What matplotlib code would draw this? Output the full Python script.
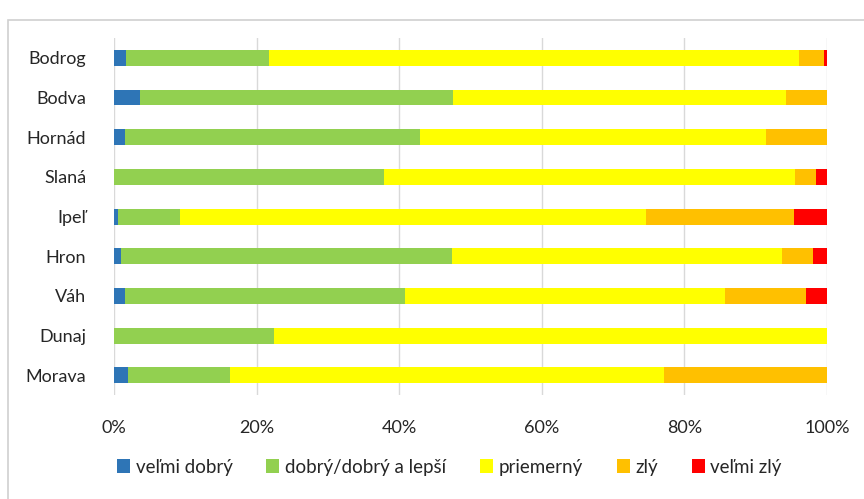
import matplotlib.pyplot as plt
from matplotlib.patches import Rectangle
from matplotlib.ticker import PercentFormatter

plt.rcParams['font.family'] = ['Lato', 'DejaVu Sans']

# rieky (zhora nadol ako v grafe)
rivers = ["Bodrog", "Bodva", "Hornád", "Slaná", "Ipeľ", "Hron", "Váh", "Dunaj", "Morava"]

# podiely v % podľa stavu
velmi_dobry = [1.7, 3.6, 1.6, 0.0, 0.5, 1.0, 1.5, 0.0, 1.9]
dobry = [20.0, 44.0, 41.3, 37.9, 8.7, 46.4, 39.3, 22.4, 14.3]
priemerny = [74.4, 46.7, 48.5, 57.7, 65.4, 46.3, 44.9, 77.6, 60.9]
zly = [3.5, 5.7, 8.6, 2.9, 20.8, 4.4, 11.4, 0.0, 22.9]
velmi_zly = [0.4, 0.0, 0.0, 1.5, 4.6, 1.9, 2.9, 0.0, 0.0]

series = [
    ("veľmi dobrý", velmi_dobry, "#2E75B6"),
    ("dobrý/dobrý a lepší", dobry, "#92D050"),
    ("priemerný", priemerny, "#FFFF00"),
    ("zlý", zly, "#FFC000"),
    ("veľmi zlý", velmi_zly, "#FF0000"),
]

fig = plt.figure(figsize=(8.64, 4.99), dpi=100)
ax = fig.add_axes([0.132, 0.208, 0.825, 0.716])

y = list(range(len(rivers)))
left = [0.0] * len(rivers)
for name, vals, color in series:
    ax.barh(y, vals, left=left, height=0.4, color=color, label=name, zorder=3)
    left = [a + b for a, b in zip(left, vals)]

ax.set_xlim(0, 100)
ax.set_ylim(len(rivers) - 0.5, -0.5)
ax.set_yticks(y)
ax.set_yticklabels(rivers)
ax.set_xticks([0, 20, 40, 60, 80, 100])
ax.xaxis.set_major_formatter(PercentFormatter(decimals=0))
ax.grid(axis="x", color="#D9D9D9", linewidth=1, zorder=0)
for s in ax.spines.values():
    s.set_visible(False)
ax.tick_params(length=0, labelsize=13, colors="#262626")
ax.tick_params(axis="y", pad=20)
ax.tick_params(axis="x", pad=18)

fig.legend(loc="center", bbox_to_anchor=(0.52, 0.064), ncol=5, frameon=False,
           fontsize=13.5, handlelength=0.7, handleheight=0.7, handletextpad=0.3,
           columnspacing=1.8, labelcolor="#262626")

# rámček okolo grafu
fig.patches.append(Rectangle((0.009, -0.1), 1.2, 1.06, transform=fig.transFigure,
                             fill=False, edgecolor="#D0D0D0", linewidth=1.2))

fig.savefig("out.png", dpi=100)
